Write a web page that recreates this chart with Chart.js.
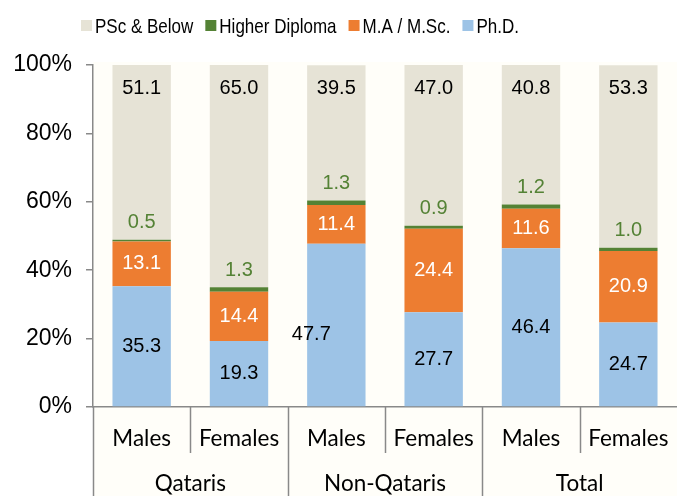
<!DOCTYPE html>
<html>
<head>
<meta charset="utf-8">
<script src="https://cdn.jsdelivr.net/npm/chart.js@4"></script>
<style>
  html, body { margin: 0; padding: 0; background: #ffffff; }
  #wrap { width: 677px; height: 496px; position: relative; }
</style>
</head>
<body>
<div id="wrap"><canvas id="c" width="677" height="496"></canvas></div>
<script>
// ---- data ----
const categories = ['Males', 'Females', 'Males', 'Females', 'Males', 'Females'];
const groups = ['Qataris', 'Non-Qataris', 'Total'];
const seriesNames = ['Ph.D.', 'M.A / M.Sc.', 'Higher Diploma', 'PSc & Below'];
const phd = [35.3, 19.3, 47.7, 27.7, 46.4, 24.7];
const maMsc = [13.1, 14.4, 11.4, 24.4, 11.6, 20.9];
const higherDiploma = [0.5, 1.3, 1.3, 0.9, 1.2, 1.0];
const pscBelow = [51.1, 65.0, 39.5, 47.0, 40.8, 53.3];
const yTicks = [0, 20, 40, 60, 80, 100];

// ---- styles ----
const colors = ['#9DC3E6', '#ED7D31', '#548235', '#E6E3D6'];
const labelStyles = [
  { mode: 'center', color: '#000000' },
  { mode: 'center', color: '#FFFFFF' },
  { mode: 'above', color: '#548235' },
  { mode: 'insideEnd', color: '#000000' }
];
// manual label nudges (as in the original, one label sits off-bar)
const labelNudge = { '0-2': { dx: -25, dy: 9 } };
const AXIS = '#898989';
const valueFont = '20px "Liberation Sans", Arial, sans-serif';
const catFont = '22.5px Lato, "Open Sans", sans-serif';

const datasetsData = [phd, maMsc, higherDiploma, pscBelow];

const bgPlugin = {
  id: 'bg',
  beforeDraw(chart) {
    const ctx = chart.ctx;
    const ca = chart.chartArea;
    ctx.save();
    ctx.fillStyle = '#FFFFFF';
    ctx.fillRect(0, 0, chart.width, chart.height);
    ctx.fillStyle = '#FFFEF9';
    ctx.fillRect(ca.left, ca.top - 3, chart.width - ca.left, chart.height - ca.top + 3);
    ctx.restore();
  }
};

const legendPlugin = {
  id: 'customLegend',
  afterDraw(chart) {
    const ctx = chart.ctx;
    const sx = 0.81;
    ctx.save();
    ctx.font = '21px "Liberation Sans", Arial, sans-serif';
    ctx.textBaseline = 'middle';
    ctx.textAlign = 'left';
    let x = 81;
    const yMid = 26;
    for (let i = seriesNames.length - 1; i >= 0; i--) {
      ctx.fillStyle = colors[i];
      ctx.fillRect(x, yMid - 6, 11, 11);
      x += 14;
      ctx.fillStyle = '#000000';
      ctx.save();
      ctx.translate(x, yMid + 1);
      ctx.scale(sx, 1);
      ctx.fillText(seriesNames[i], 0, 0);
      ctx.restore();
      x += ctx.measureText(seriesNames[i]).width * sx + 12;
    }
    ctx.restore();
  }
};

const labelPlugin = {
  id: 'valueLabels',
  afterDatasetsDraw(chart) {
    const ctx = chart.ctx;
    ctx.save();
    ctx.font = valueFont;
    ctx.textAlign = 'center';
    ctx.textBaseline = 'middle';
    chart.data.datasets.forEach((ds, di) => {
      const meta = chart.getDatasetMeta(di);
      const st = labelStyles[di];
      meta.data.forEach((bar, i) => {
        const v = ds.data[i];
        let y;
        if (st.mode === 'center') y = (bar.y + bar.base) / 2;
        else if (st.mode === 'above') y = bar.y - 17;
        else y = Math.max(bar.y, chart.chartArea.top) + 23;
        let x = bar.x;
        const n = labelNudge[di + '-' + i];
        if (n) { x += n.dx; y += n.dy; }
        ctx.fillStyle = st.color;
        ctx.fillText(v.toFixed(1), x, y);
      });
    });
    ctx.restore();
  }
};

const xAxisPlugin = {
  id: 'groupAxis',
  afterDraw(chart) {
    const ctx = chart.ctx;
    const xs = chart.scales.x;
    const ca = chart.chartArea;
    const catW = xs.getPixelForValue(1) - xs.getPixelForValue(0);
    ctx.save();
    ctx.strokeStyle = AXIS;
    ctx.lineWidth = 1.5;
    for (let i = 0; i < categories.length; i++) {
      const bx = Math.round(xs.getPixelForValue(i) - catW / 2) + 0.5;
      const yEnd = (i % 2 === 0) ? chart.height : ca.bottom + 46;
      ctx.beginPath();
      ctx.moveTo(bx, ca.bottom);
      ctx.lineTo(bx, yEnd);
      ctx.stroke();
    }
    ctx.fillStyle = '#000000';
    ctx.font = catFont;
    ctx.textAlign = 'center';
    ctx.textBaseline = 'middle';
    categories.forEach((c, i) => {
      ctx.fillText(c, xs.getPixelForValue(i), ca.bottom + 32);
    });
    groups.forEach((g, gi) => {
      const cx = (xs.getPixelForValue(gi * 2) + xs.getPixelForValue(gi * 2 + 1)) / 2;
      ctx.fillText(g, cx, ca.bottom + 77);
    });
    ctx.restore();
  }
};

new Chart(document.getElementById('c'), {
  type: 'bar',
  data: {
    labels: categories,
    datasets: datasetsData.map((d, i) => ({
      label: seriesNames[i],
      data: d,
      backgroundColor: colors[i],
      borderWidth: 0,
      barPercentage: 0.6,
      categoryPercentage: 1.0
    }))
  },
  options: {
    responsive: false,
    animation: false,
    layout: { padding: { top: 65, right: 0, bottom: 0, left: 0 } },
    plugins: {
      legend: { display: false },
      tooltip: { enabled: false }
    },
    scales: {
      x: {
        stacked: true,
        ticks: { display: false },
        grid: { display: false },
        border: { display: true, color: AXIS, width: 1.5 },
        afterFit(s) { s.height = 89; }
      },
      y: {
        stacked: true,
        min: 0,
        max: 100,
        afterBuildTicks(s) { s.ticks = yTicks.map(v => ({ value: v })); },
        ticks: {
          padding: 14,
          color: '#000000',
          font: { family: '"Liberation Sans", Arial, sans-serif', size: 23 },
          callback: v => v + '%'
        },
        grid: { display: true, drawOnChartArea: false, drawTicks: true, tickLength: 7, color: AXIS, lineWidth: 1.5 },
        border: { display: true, color: AXIS, width: 1.5 },
        afterFit(s) { s.width = 93; }
      }
    }
  },
  plugins: [bgPlugin, labelPlugin, xAxisPlugin, legendPlugin]
});
</script>
</body>
</html>
